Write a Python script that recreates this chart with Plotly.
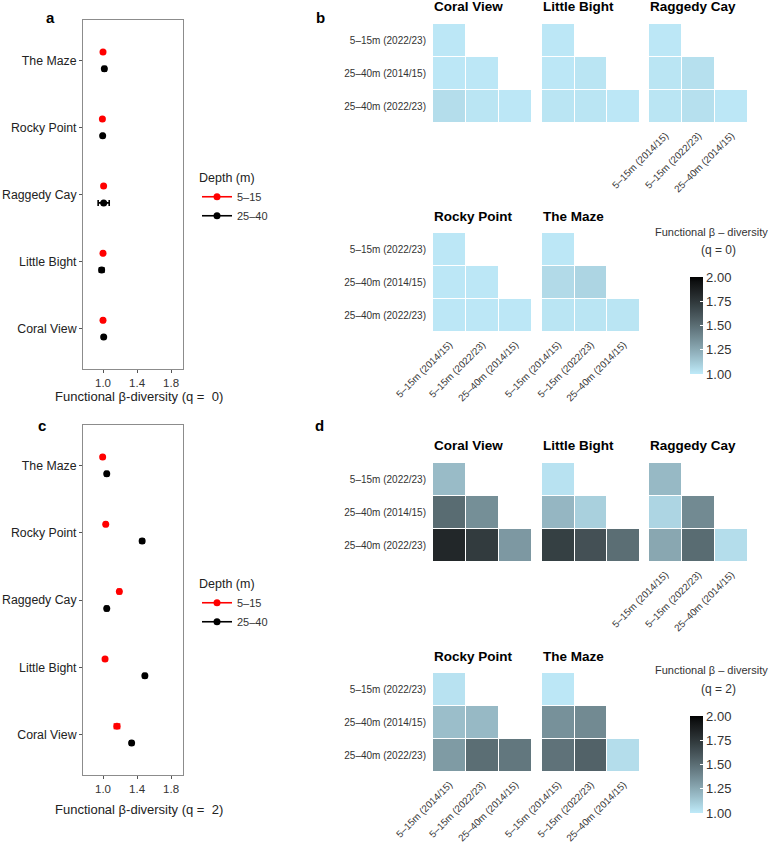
import plotly.graph_objects as go

W, H = 771, 843

# ---------------- data ----------------
sites = ["Coral View", "Little Bight", "Raggedy Cay", "Rocky Point", "The Maze"]
depth_labels = ["5–15", "25–40"]

q0_shallow = [1.000, 1.000, 1.007, 0.993, 1.000]
q0_shallow_err = [0.012, 0.012, 0.012, 0.012, 0.012]
q0_deep = [1.008, 0.984, 1.008, 0.996, 1.016]
q0_deep_err = [0.015, 0.025, 0.065, 0.012, 0.020]

q2_shallow = [1.164, 1.024, 1.192, 1.032, 0.996]
q2_shallow_err = [0.030, 0.015, 0.018, 0.015, 0.015]
q2_deep = [1.336, 1.492, 1.044, 1.460, 1.044]
q2_deep_err = [0.020, 0.018, 0.018, 0.020, 0.018]

row_labels = ["5–15m (2022/23)", "25–40m (2014/15)", "25–40m (2022/23)"]
col_labels = ["5–15m (2014/15)", "5–15m (2022/23)", "25–40m (2014/15)"]

# lower-triangular pairwise values (row i has i+1 values)
q0_coral_view = [[1.01], [1.01, 1.01], [1.05, 1.02, 1.01]]
q0_little_bight = [[1.01], [1.01, 1.02], [1.02, 1.02, 1.01]]
q0_raggedy_cay = [[1.01], [1.02, 1.04], [1.02, 1.04, 1.01]]
q0_rocky_point = [[1.01], [1.01, 1.01], [1.01, 1.01, 1.01]]
q0_the_maze = [[1.01], [1.06, 1.08], [1.02, 1.02, 1.02]]

q2_coral_view = [[1.18], [1.51, 1.36], [1.83, 1.73, 1.32]]
q2_little_bight = [[1.03], [1.20, 1.10], [1.71, 1.63, 1.50]]
q2_raggedy_cay = [[1.19], [1.08, 1.38], [1.26, 1.51, 1.05]]
q2_rocky_point = [[1.03], [1.17, 1.19], [1.31, 1.50, 1.46]]
q2_the_maze = [[1.01], [1.35, 1.38], [1.48, 1.55, 1.05]]

cbar_ticks = [1.00, 1.25, 1.50, 1.75, 2.00]

q0_sets = [q0_coral_view, q0_little_bight, q0_raggedy_cay, q0_rocky_point, q0_the_maze]
q2_sets = [q2_coral_view, q2_little_bight, q2_raggedy_cay, q2_rocky_point, q2_the_maze]

FONT = "Liberation Sans, Arial, Helvetica, sans-serif"
TXT = "#333333"


# ---------------- Lab colour ramp (like ggplot gradient) ----------------
def hex_to_lab(h):
    h = h.lstrip("#")
    rgb = [int(h[i:i + 2], 16) / 255 for i in (0, 2, 4)]
    lin = [c / 12.92 if c <= 0.04045 else ((c + 0.055) / 1.055) ** 2.4 for c in rgb]
    X = (0.4124 * lin[0] + 0.3576 * lin[1] + 0.1805 * lin[2]) / 0.95047
    Y = (0.2126 * lin[0] + 0.7152 * lin[1] + 0.0722 * lin[2]) / 1.0
    Z = (0.0193 * lin[0] + 0.1192 * lin[1] + 0.9505 * lin[2]) / 1.08883

    def f(t):
        return t ** (1 / 3) if t > 0.008856 else 7.787 * t + 16 / 116
    fx, fy, fz = f(X), f(Y), f(Z)
    return (116 * fy - 16, 500 * (fx - fy), 200 * (fy - fz))


def lab_to_hex(L, a, b):
    fy = (L + 16) / 116
    fx = fy + a / 500
    fz = fy - b / 200

    def finv(t):
        return t ** 3 if t ** 3 > 0.008856 else (t - 16 / 116) / 7.787
    X, Y, Z = finv(fx) * 0.95047, finv(fy), finv(fz) * 1.08883
    r = 3.2406 * X - 1.5372 * Y - 0.4986 * Z
    g = -0.9689 * X + 1.8758 * Y + 0.0415 * Z
    bb = 0.0557 * X - 0.2040 * Y + 1.0570 * Z
    out = []
    for c in (r, g, bb):
        c = max(0.0, min(1.0, c))
        c = 12.92 * c if c <= 0.0031308 else 1.055 * c ** (1 / 2.4) - 0.055
        out.append(int(round(max(0, min(1, c)) * 255)))
    return "#%02x%02x%02x" % tuple(out)


low, high = hex_to_lab("#BEEAF9"), hex_to_lab("#000000")
n = 20
colorscale = []
for k in range(n + 1):
    t = k / n
    colorscale.append([t, lab_to_hex(*[low[i] + (high[i] - low[i]) * t for i in range(3)])])


def px_x(p):
    return p / W


def px_y(p):
    return 1 - p / H


fig = go.Figure()

# ---------------- dot plots (a, c) ----------------
dodge = 0.125
ypos = [i + 1 for i in range(len(sites))]
dot_panels = [
    ("x", "y", q0_shallow, q0_shallow_err, q0_deep, q0_deep_err, "legend"),
    ("x2", "y2", q2_shallow, q2_shallow_err, q2_deep, q2_deep_err, "legend2"),
]
for xa, ya, sh, she, dp, dpe, lg in dot_panels:
    for vals, errs, col, off in ((sh, she, "#FF0000", dodge), (dp, dpe, "#000000", -dodge)):
        fig.add_trace(go.Scatter(
            x=vals, y=[p + off for p in ypos], xaxis=xa, yaxis=ya, mode="markers",
            marker=dict(color=col, size=7),
            error_x=dict(type="data", array=errs, color=col, thickness=1.6, width=3),
            showlegend=False, hoverinfo="x+y"))
    for name, col in zip(depth_labels, ["#FF0000", "#000000"]):
        fig.add_trace(go.Scatter(
            x=[None], y=[None], xaxis=xa, yaxis=ya, mode="lines+markers", name=name,
            marker=dict(color=col, size=7), line=dict(color=col, width=1.6),
            legend=lg, showlegend=True))

dot_x_dom = [px_x(83), px_x(183)]
dot_common_x = dict(range=[0.765, 1.94], tickvals=[1.0, 1.4, 1.8], ticktext=["1.0", "1.4", "1.8"],
                    showgrid=False, zeroline=False, showline=True, mirror=True, automargin=False,
                    linecolor="#8C8C8C", linewidth=1, ticks="outside", ticklen=3,
                    tickcolor="#555555", tickfont=dict(size=11.5, color=TXT, family=FONT))
dot_common_y = dict(range=[0.4, 5.6], tickvals=ypos, ticktext=sites,
                    showgrid=False, zeroline=False, showline=True, mirror=True, automargin=False,
                    linecolor="#8C8C8C", linewidth=1, ticks="outside", ticklen=3,
                    tickcolor="#555555", tickfont=dict(size=12.3, color="#222222", family=FONT))

layout = dict(
    xaxis=dict(domain=dot_x_dom, anchor="y", **dot_common_x),
    yaxis=dict(domain=[px_y(369), px_y(20)], anchor="x", **dot_common_y),
    xaxis2=dict(domain=dot_x_dom, anchor="y2", **dot_common_x),
    yaxis2=dict(domain=[px_y(775), px_y(425)], anchor="x2", **dot_common_y),
)

# ---------------- heatmaps (b, d) ----------------
col_px = [(433, 532), (542, 640), (649, 748)]
facet_grid = [(0, 0), (0, 1), (0, 2), (1, 0), (1, 1)]  # (row, col) for each site
show_x = [False, False, True, True, True]
show_y = [True, False, False, True, False]
row_px_b = [(24, 123), (233, 332)]
row_px_d = [(463, 562), (673, 772)]

annotations = []
ax_idx = 3
for sets, rows_px, cax in ((q0_sets, row_px_b, "coloraxis"), (q2_sets, row_px_d, "coloraxis2")):
    for s, site in enumerate(sites):
        tri = sets[s]
        z = [[tri[i][j] if j < len(tri[i]) else None for j in range(len(col_labels))]
             for i in range(len(row_labels))]
        r, c = facet_grid[s]
        xn, yn = "x%d" % ax_idx, "y%d" % ax_idx
        fig.add_trace(go.Heatmap(
            z=z, x=col_labels, y=row_labels, xaxis=xn, yaxis=yn, coloraxis=cax,
            xgap=1, ygap=1, hoverongaps=False))
        x0, x1 = col_px[c]
        y0, y1 = rows_px[r]
        layout["xaxis%d" % ax_idx] = dict(
            domain=[px_x(x0), px_x(x1)], anchor=yn, type="category", automargin=False,
            categoryorder="array", categoryarray=col_labels,
            showgrid=False, zeroline=False, showline=False, ticks="",
            showticklabels=show_x[s], tickangle=-45, ticklabelstandoff=4,
            tickfont=dict(size=9.8, color=TXT, family=FONT))
        layout["yaxis%d" % ax_idx] = dict(
            domain=[px_y(y1), px_y(y0)], anchor=xn, type="category", automargin=False,
            categoryorder="array", categoryarray=row_labels, autorange="reversed",
            showgrid=False, zeroline=False, showline=False, ticks="",
            showticklabels=show_y[s], ticklabelstandoff=6,
            tickfont=dict(size=10, color=TXT, family=FONT))
        annotations.append(dict(
            text="<b>%s</b>" % site, xref="paper", yref="paper",
            x=px_x(x0 - 1), y=px_y(y0 - 17), xanchor="left", yanchor="middle",
            showarrow=False, font=dict(size=13.5, color="#000000", family=FONT)))
        ax_idx += 1


def cbar(ymid_px):
    return dict(
        x=px_x(690), xanchor="left", y=px_y(ymid_px), yanchor="middle",
        len=97 / H, lenmode="fraction", thickness=13, outlinewidth=0,
        tickvals=cbar_ticks, ticktext=["%.2f" % v for v in cbar_ticks],
        ticks="inside", tickcolor="#FFFFFF", ticklen=3,
        tickfont=dict(size=13, color=TXT, family=FONT), xpad=0, ypad=0)


layout["coloraxis"] = dict(cmin=1, cmax=2, colorscale=colorscale, colorbar=cbar(325.5))
layout["coloraxis2"] = dict(cmin=1, cmax=2, colorscale=colorscale, colorbar=cbar(764.5))

# colour-bar titles
for y1, y2, q in ((232, 250, "0"), (670, 689, "2")):
    annotations.append(dict(text="Functional β – diversity", xref="paper", yref="paper",
                            x=px_x(711), y=px_y(y1), xanchor="center", yanchor="middle",
                            showarrow=False, font=dict(size=11, color=TXT, family=FONT)))
    annotations.append(dict(text="(q = %s)" % q, xref="paper", yref="paper",
                            x=px_x(718), y=px_y(y2), xanchor="center", yanchor="middle",
                            showarrow=False, font=dict(size=12, color=TXT, family=FONT)))

# dot-plot x titles
for ypx, q in ((397, "0"), (809, "2")):
    annotations.append(dict(text="Functional β-diversity (q =  %s)" % q, xref="paper", yref="paper",
                            x=px_x(139), y=px_y(ypx), xanchor="center", yanchor="middle",
                            showarrow=False, font=dict(size=13, color="#222222", family=FONT)))

# panel letters
for lab, xp, yp in (("a", 50, 17), ("b", 320, 17), ("c", 42, 425), ("d", 319, 425)):
    annotations.append(dict(text="<b>%s</b>" % lab, xref="paper", yref="paper",
                            x=px_x(xp), y=px_y(yp), xanchor="center", yanchor="middle",
                            showarrow=False, font=dict(size=15, color="#000000", family=FONT)))

leg_common = dict(xanchor="left", yanchor="top", bgcolor="rgba(0,0,0,0)",
                  font=dict(size=11, color=TXT, family=FONT), itemwidth=30,
                  title=dict(text="Depth (m)", font=dict(size=12.5, color="#222222", family=FONT)))
layout["legend"] = dict(x=px_x(197), y=px_y(166), **leg_common)
layout["legend2"] = dict(x=px_x(197), y=px_y(572), **leg_common)

fig.update_layout(
    width=W, height=H, autosize=False,
    margin=dict(l=0, r=0, t=0, b=0, pad=0),
    paper_bgcolor="white", plot_bgcolor="white",
    font=dict(family=FONT, color=TXT),
    annotations=annotations,
    **layout)

fig.write_html("out.html")
